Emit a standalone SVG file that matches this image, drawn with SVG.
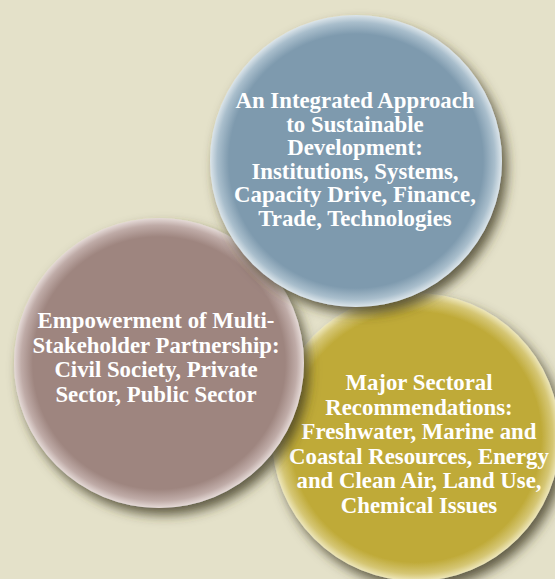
<svg xmlns="http://www.w3.org/2000/svg" width="555" height="579" viewBox="0 0 555 579">
<style>
.lbl{font-family:"Liberation Serif","Times New Roman",serif;font-weight:bold;font-size:22.8px;fill:#ffffff;text-anchor:middle}
</style>
<defs>
<filter id="shadow" x="-20%" y="-20%" width="150%" height="150%">
<feGaussianBlur in="SourceAlpha" stdDeviation="6"/>
<feOffset dx="5" dy="7" result="b"/>
<feFlood flood-color="#3f3a22" flood-opacity="0.8"/>
<feComposite in2="b" operator="in" result="s"/>
<feMerge><feMergeNode in="s"/><feMergeNode in="SourceGraphic"/></feMerge>
</filter>
<radialGradient id="gBlue" r="0.5">
<stop offset="0.87" stop-color="#7e9aae"/>
<stop offset="0.95" stop-color="#a9becc"/>
<stop offset="1" stop-color="#dce5ea"/>
</radialGradient>
<radialGradient id="gMauve" r="0.5">
<stop offset="0.87" stop-color="#9e857f"/>
<stop offset="0.95" stop-color="#bfaba7"/>
<stop offset="1" stop-color="#e5dad7"/>
</radialGradient>
<radialGradient id="gOlive" r="0.5">
<stop offset="0.87" stop-color="#bfaa38"/>
<stop offset="0.95" stop-color="#d5c674"/>
<stop offset="1" stop-color="#eee7bb"/>
</radialGradient>
</defs>
<rect width="555" height="579" fill="#e4e1c9"/>
<g id="node-sectoral">
<circle cx="416" cy="437" r="144" fill="url(#gOlive)" filter="url(#shadow)"/>
<text class="lbl"><tspan x="419" y="390">Major Sectoral</tspan><tspan x="419" y="414.5">Recommendations:</tspan><tspan x="419" y="439">Freshwater, Marine and</tspan><tspan x="419" y="463.5">Coastal Resources, Energy</tspan><tspan x="419" y="488">and Clean Air, Land Use,</tspan><tspan x="419" y="512.5">Chemical Issues</tspan></text>
</g>
<g id="node-partnership">
<circle cx="159" cy="363" r="145" fill="url(#gMauve)" filter="url(#shadow)"/>
<text class="lbl"><tspan x="156" y="328">Empowerment of Multi-</tspan><tspan x="156" y="352.5">Stakeholder Partnership:</tspan><tspan x="156" y="377">Civil Society, Private</tspan><tspan x="156" y="401.5">Sector, Public Sector</tspan></text>
</g>
<g id="node-integrated">
<circle cx="356" cy="161" r="146" fill="url(#gBlue)" filter="url(#shadow)"/>
<text class="lbl"><tspan x="355" y="108">An Integrated Approach</tspan><tspan x="355" y="131.5">to Sustainable</tspan><tspan x="355" y="155">Development:</tspan><tspan x="355" y="178.5">Institutions, Systems,</tspan><tspan x="355" y="202">Capacity Drive, Finance,</tspan><tspan x="355" y="225.5">Trade, Technologies</tspan></text>
</g>
<g id="connectors"/>
</svg>
